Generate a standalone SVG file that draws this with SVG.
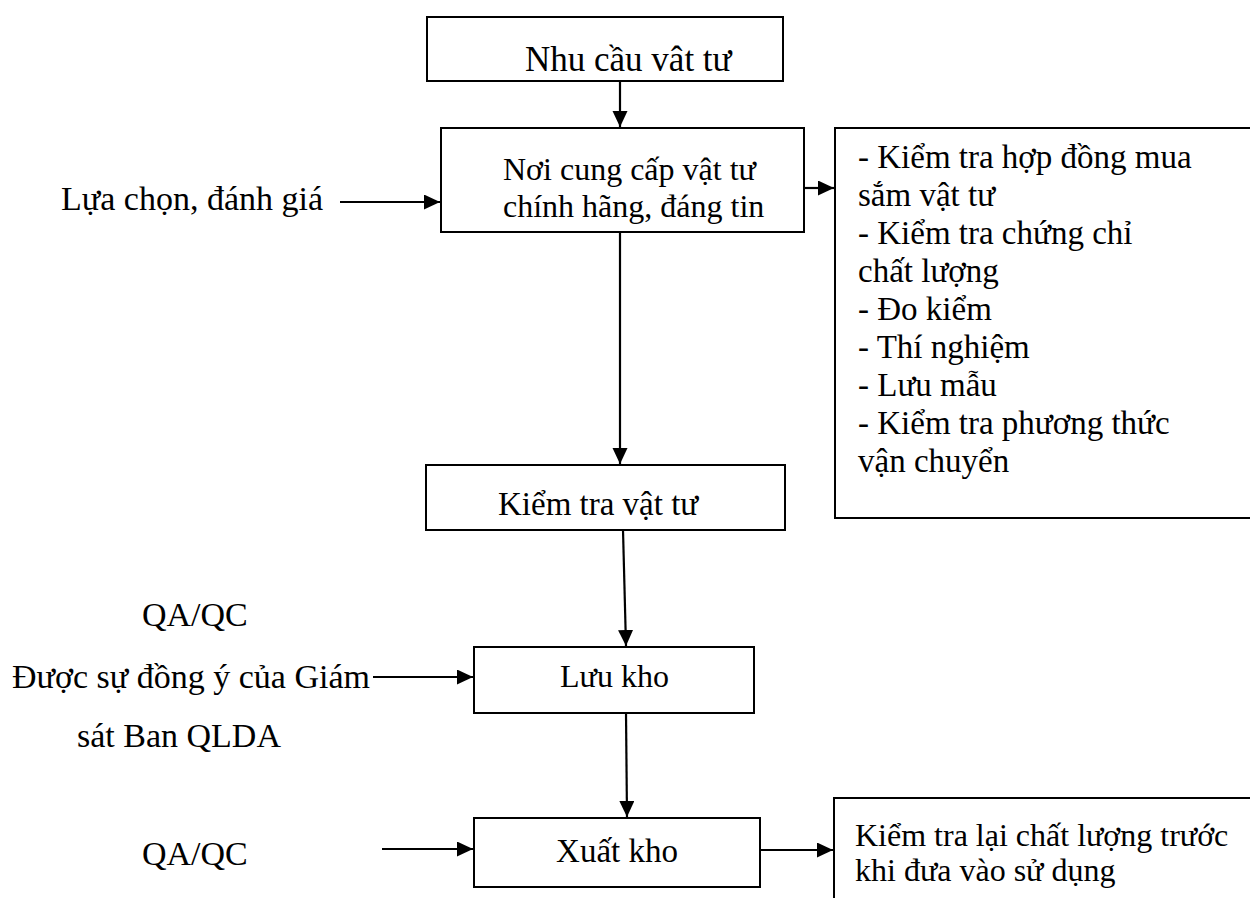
<svg xmlns="http://www.w3.org/2000/svg" width="1250" height="898" viewBox="0 0 1250 898">
<style>
.box{fill:#fff;stroke:#000;stroke-width:2}
.t{font-family:"Liberation Serif","Times New Roman",serif;font-size:33px;fill:#000}
.c{stroke:#000;stroke-width:2.2;fill:none;marker-end:url(#ah)}
</style>
<defs>
<marker id="ah" markerUnits="userSpaceOnUse" markerWidth="17" markerHeight="16" refX="16" refY="7.5" orient="auto">
<path d="M0,0 L16,7.5 L0,15 z" fill="#000"/>
</marker>
</defs>
<rect width="1250" height="898" fill="#fff"/>
<g id="n1"><rect class="box" x="427" y="17" width="356" height="64"/><text class="t" x="525" y="71" style="font-size:35px">Nhu cầu vât tư</text></g>
<g id="n2"><rect class="box" x="441" y="128" width="363" height="104"/><text class="t" x="503" y="180" style="font-size:32px">Nơi cung cấp vật tư</text><text class="t" x="503" y="217" style="font-size:32px">chính hãng, đáng tin</text></g>
<g id="n3"><rect class="box" x="835" y="128" width="420" height="390"/>
<text class="t" x="858" y="168">- Kiểm tra hợp đồng mua</text>
<text class="t" x="858" y="206">sắm vật tư</text>
<text class="t" x="858" y="244">- Kiểm tra chứng chỉ</text>
<text class="t" x="858" y="282">chất lượng</text>
<text class="t" x="858" y="320">- Đo kiểm</text>
<text class="t" x="858" y="358">- Thí nghiệm</text>
<text class="t" x="858" y="396">- Lưu mẫu</text>
<text class="t" x="858" y="434">- Kiểm tra phương thức</text>
<text class="t" x="858" y="472">vận chuyển</text></g>
<g id="n4"><rect class="box" x="426" y="465" width="359" height="65"/><text class="t" x="498" y="515">Kiểm tra vật tư</text></g>
<g id="n5"><rect class="box" x="474" y="647" width="280" height="66"/><text class="t" x="560" y="687" style="font-size:32px">Lưu kho</text></g>
<g id="n6"><rect class="box" x="474" y="818" width="286" height="69"/><text class="t" x="617" y="862" text-anchor="middle">Xuất kho</text></g>
<g id="n7"><rect class="box" x="834" y="798" width="420" height="200"/><text class="t" x="855" y="846" style="font-size:32px">Kiểm tra lại chất lượng trước</text><text class="t" x="855" y="881" style="font-size:32px">khi đưa vào sử dụng</text></g>
<g id="labels">
<text class="t" x="61" y="210" style="font-size:34px">Lựa chọn, đánh giá</text>
<text class="t" x="142" y="626" style="font-size:34px">QA/QC</text>
<text class="t" x="12" y="688" style="font-size:34px">Được sự đồng ý của Giám</text>
<text class="t" x="77" y="747" style="font-size:34px">sát Ban QLDA</text>
<text class="t" x="142" y="865" style="font-size:34px">QA/QC</text>
</g>
<g id="connectors">
<line class="c" x1="620" y1="82" x2="620" y2="127"/>
<line class="c" x1="340" y1="202" x2="440" y2="202"/>
<line class="c" x1="804" y1="188" x2="834" y2="188"/>
<line class="c" x1="620" y1="232" x2="620" y2="464"/>
<line class="c" x1="623" y1="530" x2="626" y2="646"/>
<line class="c" x1="373" y1="677" x2="473" y2="677"/>
<line class="c" x1="626" y1="713" x2="627" y2="817"/>
<line class="c" x1="382" y1="849" x2="473" y2="849"/>
<line class="c" x1="760" y1="850" x2="833" y2="850"/>
</g>
</svg>
